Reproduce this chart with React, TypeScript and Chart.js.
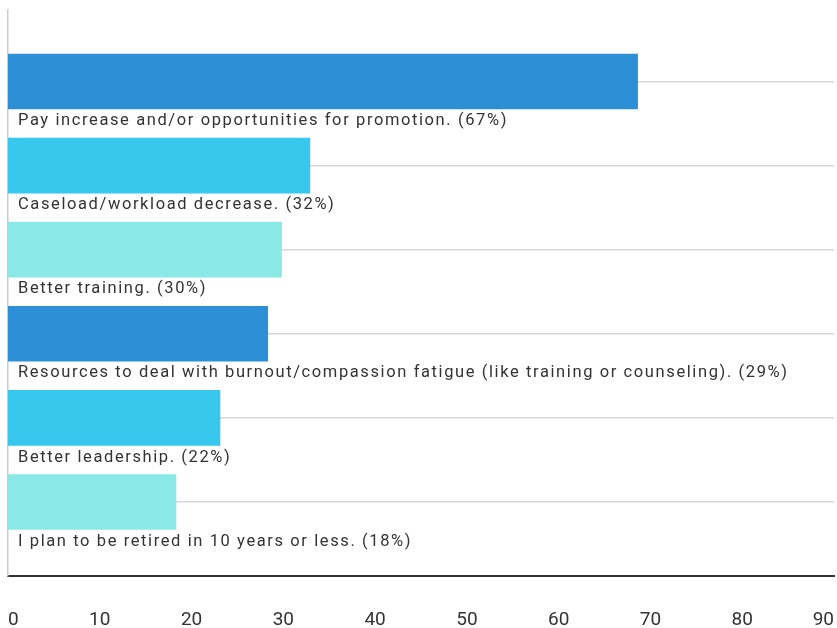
import React, { useEffect, useRef } from "react";
import { Chart, registerables } from "chart.js";

Chart.register(...registerables);

const categories: string[] = [
  "Pay increase and/or opportunities for promotion. (67%)",
  "Caseload/workload decrease. (32%)",
  "Better training. (30%)",
  "Resources to deal with burnout/compassion fatigue (like training or counseling). (29%)",
  "Better leadership. (22%)",
  "I plan to be retired in 10 years or less. (18%)",
];
const values: number[] = [68.6, 32.9, 29.8, 28.3, 23.1, 18.3];
const barColors: string[] = ["#2d8fd5", "#38c8ee", "#8ae9e6", "#2d8fd5", "#38c8ee", "#8ae9e6"];
const xTicks: number[] = [0, 10, 20, 30, 40, 50, 60, 70, 80, 90];

const spacingPlugin = {
  id: "labelSpacing",
  beforeDraw(chart: any) {
    chart.ctx.letterSpacing = "1.6px";
  },
  beforeDatasetsDraw(chart: any) {
    chart.ctx.letterSpacing = "0px";
  },
  afterDraw(chart: any) {
    chart.ctx.letterSpacing = "0px";
  },
};

export default function App() {
  const ref = useRef<HTMLCanvasElement | null>(null);
  useEffect(() => {
    if (!ref.current) return;
    const chart = new Chart(ref.current, {
      type: "bar",
      data: {
        datasets: [
          {
            data: values.map((v, i) => ({ x: v, y: i })),
            backgroundColor: barColors,
            borderWidth: 0,
            barThickness: 55,
          },
        ],
      },
      plugins: [spacingPlugin],
      options: {
        indexAxis: "y",
        animation: false,
        responsive: true,
        maintainAspectRatio: false,
        layout: { padding: { top: 10, right: 3, left: 0, bottom: 0 } },
        plugins: { legend: { display: false }, tooltip: { enabled: false } },
        scales: {
          x: {
            type: "linear",
            min: xTicks[0],
            max: xTicks[xTicks.length - 1],
            afterBuildTicks: (s: any) => {
              s.ticks = xTicks.map((v) => ({ value: v }));
            },
            afterFit: (s: any) => {
              s.height = 52;
              s.paddingLeft = 0;
              s.paddingRight = 0;
            },
            grid: { display: false, drawTicks: false },
            border: { display: true, color: "#333333", width: 2 },
            ticks: {
              z: 1,
              align: "inner",
              padding: 33,
              color: "#333333",
              font: { family: "Roboto", size: 19 },
            },
          },
          y: {
            type: "linear",
            reverse: true,
            bounds: "data",
            offset: false,
            min: -0.85,
            max: 5.88,
            afterBuildTicks: (s: any) => {
              s.ticks = categories.map((_, i) => ({ value: i }));
            },
            afterFit: (s: any) => {
              s.width = 8;
              s.paddingTop = 0;
              s.paddingBottom = 0;
            },
            grid: { display: true, offset: false, color: "#d8d8d8", lineWidth: 1.5, drawTicks: false },
            border: { display: true, color: "#cccccc", width: 1.5 },
            ticks: {
              autoSkip: false,
              mirror: true,
              crossAlign: "near",
              padding: 10,
              labelOffset: 39.5,
              color: "#333333",
              font: { family: "Roboto", size: 16.5 },
              callback: (v: any) => {
                const n = Math.round(Number(v));
                return n >= 0 && n < categories.length ? categories[n] : "";
              },
            },
          },
        },
      },
    });
    return () => chart.destroy();
  }, []);
  return (
    <div style={{ position: "fixed", left: 0, top: 0, width: 837, height: 628, background: "#ffffff" }}>
      <canvas ref={ref} />
    </div>
  );
}
